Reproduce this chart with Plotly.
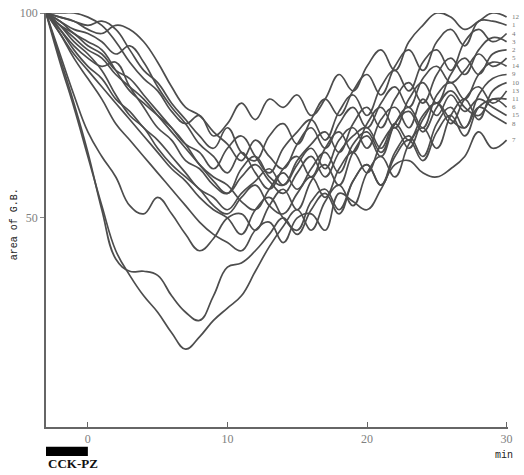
import plotly.graph_objects as go

# time axis (min)
minutes = list(range(-3, 31))

# area of gall bladder (% of initial), one list per subject
g12 = [100,100,100,99, 97,93,88,84,81, 76,73,75,70,73, 78,74,79,77,80, 75,79,85,81,87, 91,86,93,97,100, 99,96,98,100,99]
g1  = [100,99,98,97, 98,96,91,86,83, 78,74,70,67,72, 66,64,70,73,68, 74,79,75,81,85, 80,87,91,86,93, 96,92,98,98,97]
g4  = [100,97,95,92, 90,86,84,80,76, 72,68,66,62,67, 70,65,61,67,71, 74,69,76,80,75, 82,86,81,88,91, 86,93,96,93,95]
g3  = [100,96,92,89, 87,88,82,77,72, 69,64,62,58,56, 62,65,60,58,64, 68,71,66,73,77, 72,79,83,78,85, 89,85,91,94,93]
g2  = [100,98,96,95, 93,90,92,88,82, 77,73,68,65,61, 66,61,57,62,65, 60,67,71,66,73, 77,72,79,83,78, 85,89,85,90,91]
g5  = [100,99,98,96, 95,97,96,93,88, 82,77,75,71,68, 64,69,65,62,68, 72,67,73,77,72, 78,82,77,84,87, 83,86,90,87,89]
g14 = [100,90,80,71, 65,60,53,51,55, 51,46,42,45,50, 51,47,53,57,52, 59,63,58,66,70, 65,73,77,72,80, 83,79,85,88,87]
g9  = [100,89,78,66, 52,40,37,37,36, 31,27,25,31,38, 39,42,46,50,46, 52,56,51,59,63, 58,66,70,65,73, 77,72,80,84,85]
g10 = [100,88,77,65, 53,42,36,31,27, 22,18,21,25,28, 31,37,43,48,52, 47,54,58,53,61, 65,60,68,72,67, 75,79,74,81,83]
g13 = [100,97,93,90, 86,80,75,72,67, 63,60,57,53,51, 55,58,53,51,56, 60,55,62,66,61, 68,72,67,74,78, 73,79,82,78,81]
g11 = [100,95,90,86, 82,78,74,70,66, 62,59,55,52,50, 46,52,55,50,47, 54,57,52,59,63, 58,65,69,64,71, 75,70,77,79,79]
g6  = [100,98,95,93, 91,86,81,78,75, 72,68,63,60,58, 54,52,57,61,57, 62,66,61,68,71, 66,73,76,71,77, 81,77,75,79,77]
g15 = [100,96,91,87, 84,79,76,72,69, 65,61,57,55,52, 56,59,62,58,63, 67,62,69,72,67, 74,77,72,79,75, 80,76,79,77,75]
g8  = [100,97,94,91, 89,85,82,79,75, 71,67,63,59,56, 60,63,59,56,61, 65,60,66,70,72, 67,73,69,75,78, 74,72,77,75,73]
g7  = [100,95,89,84, 79,73,69,65,61, 57,53,49,46,44, 42,47,49,44,50, 51,47,56,54,52, 57,63,64,61,60, 62,65,71,67,69]

series = [g12, g1, g4, g3, g2, g5, g14, g9, g10, g13, g11, g6, g15, g8, g7]
labels = ["12", "1", "4", "3", "2", "5", "14", "9", "10", "13", "11", "6", "15", "8", "7"]

x_ticks = [0, 10, 20, 30]
y_ticks = [50, 100]
stimulus = [-3, 0]   # CCK-PZ infusion period (min)

line_col = "#4d4d4d"
fig = go.Figure()
for vals, lab in zip(series, labels):
    fig.add_trace(go.Scatter(
        x=minutes, y=vals, mode="lines", name=lab,
        line=dict(color=line_col, width=1.7, shape="spline", smoothing=1.2),
        cliponaxis=False, showlegend=False, hoverinfo="skip"))
    fig.add_annotation(x=minutes[-1], y=vals[-1], text=lab, showarrow=False,
                       xanchor="left", xshift=3, font=dict(size=7, color="#777777",
                       family="Liberation Serif"))

fig.add_shape(type="rect", xref="x", yref="paper", x0=stimulus[0], x1=stimulus[1],
              y0=-0.070, y1=-0.048, fillcolor="black", line=dict(width=0))
fig.add_annotation(x=stimulus[0], y=-0.088, xref="x", yref="paper", text="<b>CCK-PZ</b>",
                   showarrow=False, xanchor="left", yanchor="middle",
                   font=dict(size=13, family="Liberation Serif", color="#111111"))
fig.add_annotation(x=29.8, y=-0.068, xref="x", yref="paper", text="min",
                   showarrow=False, xanchor="center", yanchor="middle",
                   font=dict(size=10, family="Liberation Mono", color="#222222"))
fig.add_annotation(x=-0.069, y=0.49, xref="paper", yref="paper", text="area of G.B.",
                   showarrow=False, textangle=-90, xanchor="center", yanchor="middle",
                   font=dict(size=10, family="Liberation Mono", color="#222222"))

fig.update_layout(
    width=524, height=475,
    margin=dict(l=46, r=16, t=13, b=48, autoexpand=False),
    paper_bgcolor="white", plot_bgcolor="white",
    xaxis=dict(range=[-3, 30.1], tickvals=x_ticks, ticktext=[str(v) for v in x_ticks],
               automargin=False, ticklabeloverflow="allow",
               showgrid=False, zeroline=False, showline=True, linecolor="#666666",
               linewidth=1.5, ticks="inside", ticklen=5, tickcolor="#666666",
               tickfont=dict(family="Liberation Serif", size=12, color="#808080")),
    yaxis=dict(range=[-1, 100], tickvals=y_ticks, ticktext=[str(v) for v in y_ticks],
               automargin=False, ticklabeloverflow="allow",
               showgrid=False, zeroline=False, showline=True, linecolor="#666666",
               linewidth=1.5, ticks="outside", ticklen=4, tickcolor="#888888",
               tickfont=dict(family="Liberation Serif", size=12, color="#808080")),
)

# remove the browser's default page margin so the figure fills the window
fig.write_html("out.html", config={"displayModeBar": False},
               post_script="document.body.style.margin='0';document.body.style.overflow='hidden';")
